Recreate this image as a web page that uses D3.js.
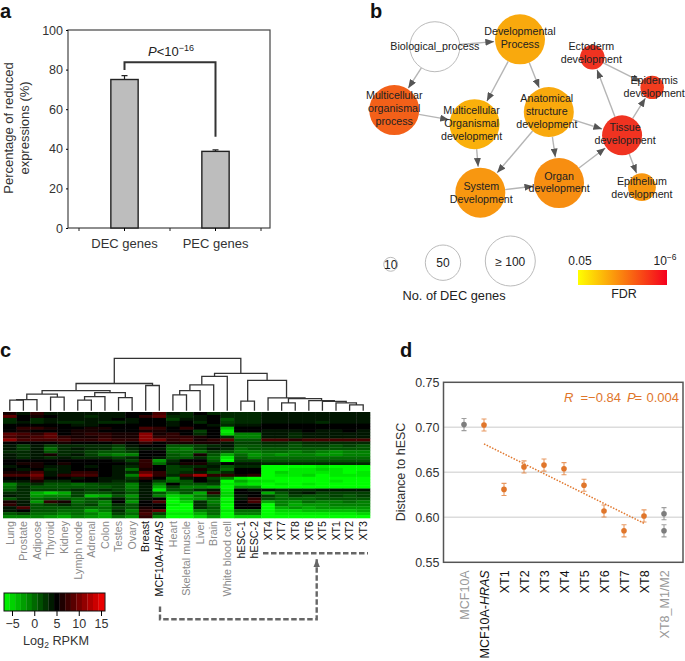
<!DOCTYPE html>
<html>
<head>
<meta charset="utf-8">
<script src="https://cdn.jsdelivr.net/npm/d3@7"></script>
<style>
body { margin: 0; background: #fff; }
svg { display: block; font-family: "Liberation Sans", Arial, sans-serif; }
text { fill: #222; }
</style>
</head>
<body>
<svg width="685" height="661"></svg>
<script>
// panel a
const barCats = ['DEC genes', 'PEC genes']
const barValues = [75, 38.7]
const barErrors = [2, 0.8]
const barTicks = [0, 20, 40, 60, 80, 100]
const bracketLevels = [79.8, 83.7, 46.1]

// panel b
const nodeNames = ['Biological_process', 'Developmental Process', 'Multicellular organismal process',
  'Multicellular Organismal development', 'Anatomical structure development', 'Tissue development',
  'Ectoderm development', 'Epidermis development', 'Epithelium development', 'Organ development', 'System Development']
const nodeLines = [['Biological_process'], ['Developmental', 'Process'], ['Multicellular', 'organismal', 'process'],
  ['Multicellular', 'Organismal', 'development'], ['Anatomical', 'structure', 'development'], ['Tissue', 'development'],
  ['Ectoderm', 'development'], ['Epidermis', 'development'], ['Epithelium', 'development'], ['Organ', 'development'], ['System', 'Development']]
const nodeGenes = [100, 100, 100, 100, 100, 64, 24, 22, 31, 100, 100]
const nodeFdr = [null, 2.9, 4.5, 2.75, 2.9, 5.5, 5.5, 5.3, 3.3, 3.5, 3.3] // -log10
const edges = [[0, 1], [0, 2], [1, 3], [1, 4], [2, 3], [3, 10], [4, 10], [4, 9], [4, 5], [10, 9], [9, 5], [5, 6], [5, 7], [5, 8], [6, 7]]
const sizeLegend = [10, 50, 100]

// node layout, in percent of the panel
const nodeX = [23.4, 50, 10.7, 35.8, 59, 81.9, 72.6, 91.3, 88.1, 62.2, 37.6]
const nodeY = [14.6, 12.3, 34.4, 38.8, 35, 42.3, 17.9, 27.3, 58.5, 57.2, 60.2]
const labelDx = [0, 0, 0, -3, -2, 3, -1, 2, 0, 0, 1]
const labelDy = [-1, -2, -2, -1, -1, -2, -5, -1, 0, -1, 0]

// panel c
const tissues = ['Lung', 'Prostate', 'Adipose', 'Thyroid', 'Kidney', 'Lymph node', 'Adrenal', 'Colon', 'Testes', 'Ovary',
  'Breast', 'MCF10A-HRAS', 'Heart', 'Skeletal muscle', 'Liver', 'Brain', 'White blood cell', 'hESC-1', 'hESC-2',
  'XT4', 'XT7', 'XT8', 'XT6', 'XT5', 'XT1', 'XT2', 'XT3']
const greyTissues = ['Lung', 'Prostate', 'Adipose', 'Thyroid', 'Kidney', 'Lymph node', 'Adrenal', 'Colon', 'Testes', 'Ovary',
  'Heart', 'Skeletal muscle', 'Liver', 'Brain', 'White blood cell']
const heatRows = [
  [6,4,7,4,4,4,4,4,4,5,5,8,4,3,5,3,3,3,3,4,4,4,4,4,4,4,4],
  [9,5,6,5,4,4,3,4,4,5,7,9,3,3,4,5,3,3,3,4,4,4,4,4,4,4,4],
  [3,5,3,4,4,4,4,4,5,4,5,5,2,4,4,5,1,3,3,4,4,4,4,4,4,4,4],
  [3,4,3,4,3,3,4,3,3,4,5,5,4,5,3,5,2,3,3,4,4,4,4,3,4,4,4],
  [5,5,5,5,5,4,4,5,5,5,5,5,4,5,5,4,3,4,4,5,5,5,5,5,5,5,5],
  [5,7,7,6,5,5,6,6,5,5,8,7,5,7,5,5,-4,5,5,5,5,5,5,5,5,5,5],
  [5,6,5,5,5,6,6,5,5,5,6,6,5,5,2,5,-6,5,5,4,4,4,5,4,4,5,4],
  [9,8,7,9,5,6,7,7,6,6,11,6,7,5,3,5,-5,-1,-1,4,4,3,4,4,4,4,4],
  [8,7,8,9,7,6,6,7,6,6,11,7,7,7,6,5,3,-1,-1,4,4,3,4,4,4,4,4],
  [11,8,8,8,8,7,7,8,7,7,11,10,7,8,6,7,9,1,1,8,8,7,8,8,8,8,8],
  [5,5,5,5,6,5,5,5,6,5,7,5,6,6,6,6,4,2,2,3,3,2,3,3,3,3,3],
  [4,2,4,2,3,3,3,3,2,4,5,5,1,1,2,3,4,1,1,2,2,1,2,2,1,2,1],
  [4,2,4,0,3,4,3,3,1,3,4,4,0,-1,2,4,3,0,1,1,1,1,1,1,1,1,1],
  [3,3,4,1,3,3,2,1,1,2,5,5,0,0,0,2,1,-1,-1,0,0,-1,0,-1,-2,-1,-1],
  [4,3,4,6,3,4,2,0,-1,-1,5,5,1,0,6,1,-3,0,-2,-1,-2,-1,-1,-2,-2,-1,-1],
  [4,3,4,3,4,3,3,3,2,3,5,4,1,1,3,0,-6,1,-1,0,0,0,0,0,0,0,0],
  [5,5,5,5,5,5,5,5,4,2,7,-2,3,5,5,1,-7,2,2,1,1,1,1,1,1,1,1],
  [5,6,6,5,6,5,5,5,5,4,7,0,4,6,6,3,5,4,4,3,3,3,3,3,3,3,3],
  [4,5,6,4,4,5,4,5,4,3,7,5,2,3,3,4,1,3,3,-7,-7,-7,-7,-6,-7,-7,-7],
  [5,4,5,3,4,5,5,5,4,0,6,5,2,2,6,3,0,5,5,-7,-7,-6,-6,-5,-6,-7,-7],
  [6,6,8,4,4,7,7,5,4,3,9,7,2,3,4,1,3,5,5,-7,-5,-6,-6,-6,-6,-7,-6],
  [8,8,10,4,7,8,8,5,4,-1,12,7,3,8,12,7,7,6,7,-7,-6,-6,-5,-7,-6,-6,-6],
  [5,5,8,5,5,4,5,4,4,2,7,5,-1,4,5,2,-1,-6,-7,-7,-7,-7,-7,-7,-7,-7,-7],
  [4,4,6,3,3,5,5,4,3,3,5,2,0,1,5,3,-7,-3,-5,-6,-7,-7,-7,-7,-6,-7,-7],
  [-1,2,3,1,1,0,1,2,2,-1,4,-1,5,1,1,2,-6,-5,-6,-7,-6,-7,-6,-7,-7,-7,-7],
  [0,3,1,1,1,1,1,1,2,-1,4,-3,2,-1,-1,-2,-7,-2,-2,-7,-7,-7,-7,-7,-7,-7,-7],
  [1,3,2,2,2,3,2,3,2,0,4,-6,1,1,3,4,-6,5,4,4,3,3,3,4,4,4,4],
  [3,3,-3,-5,-3,2,1,1,3,1,4,1,-2,1,-3,7,-5,5,5,-3,1,3,4,2,2,2,2],
  [4,3,-2,-1,-1,2,-4,-3,1,-2,4,-1,-5,-4,-1,2,-5,4,5,2,0,2,1,1,2,1,2],
  [1,3,0,1,1,0,1,2,4,0,4,5,-6,-3,-2,0,-7,4,7,1,0,0,0,1,1,1,1],
  [6,4,-2,7,6,0,1,-1,5,-2,5,8,-7,-5,3,-1,-6,5,8,-3,-1,-2,0,-1,-1,0,-1],
  [7,4,1,2,3,1,2,-1,3,1,5,5,-6,-7,3,0,-7,5,5,-7,-1,-3,-2,-2,-1,-1,-1],
  [4,8,1,1,1,1,0,0,2,1,6,5,-7,-7,3,1,-7,5,5,-7,-3,-2,-3,-2,-2,-2,-2],
  [4,5,1,1,0,0,-3,-1,3,-1,7,9,-7,-7,-1,0,-6,0,0,-7,-5,-5,-4,-4,-4,-4,-3],
  [1,2,0,0,-1,0,-1,-3,2,0,8,2,-6,-6,-3,0,-7,-1,-1,-7,-6,-6,-6,-6,-6,-6,-5],
  [-1,-1,-1,-2,-3,-1,-2,-3,0,-2,7,-1,-7,-7,-5,-2,-7,-5,-5,-7,-7,-7,-7,-7,-7,-7,-7]
]
// dendrogram as [height, left, right], numbers are leaf indexes
const dendro = [52,
  [27,
    [20,
      [16.5, [11, [10.5, 0, 1], 2], [13.5, 3, 4]],
      [18, [14, [10.5, 5, 6], 7], [13, 8, 9]]],
    [25, 10, 11]],
  [37,
    [34, [25.7, [20, [15.7, 12, 13], 14], 15], 16],
    [30, [9.5, 17, 18],
      [12.7, 19, [12, [7.7, 20, 21], [10, 22, [9.3, 23, [7.7, 24, [5.7, 25, 26]]]]]]]]]
const heatLegendTicks = [-5, 0, 5, 10, 15]
const heatLegendSteps = d3.range(-6.8, 15.9, 1.25)

// panel d
const pointLabels = ['MCF10A', 'MCF10A-HRAS', 'XT1', 'XT2', 'XT3', 'XT4', 'XT5', 'XT6', 'XT7', 'XT8', 'XT8_M1/M2']
const pointValues = [0.703, 0.7026, 0.631, 0.656, 0.658, 0.654, 0.6356, 0.607, 0.585, 0.6015, 0.604]
const extraLabels = ['XT8_M1/M2']
const extraValues = [0.585]
const pointError = 0.0067
const distTicks = [0.55, 0.6, 0.65, 0.7, 0.75]
const gridTicks = [0.6, 0.65, 0.7]
const trendLabels = ['MCF10A-HRAS', 'XT8']
const trendValues = [0.6815, 0.5933]

const svg = d3.select('svg')
const dark = '#333'
const defs = svg.append('defs')

function letter(t, x, y) {
  svg.append('text').attr('x', x).attr('y', y).attr('font-size', 20).attr('font-weight', 'bold').style('fill', '#111').text(t)
}
letter('a', 0, 18)
letter('b', 370, 18)
letter('c', 0, 357)
letter('d', 400, 357)

// ---- a ----
const aBox = {left: 68, right: 270, top: 30, bottom: 228}
const ax = d3.scaleBand().domain(barCats).range([79, 261]).paddingInner(0.7).paddingOuter(0.35)
const ay = d3.scaleLinear().domain([0, 100]).range([aBox.bottom, aBox.top])
const panelA = svg.append('g')

panelA.append('rect').attr('x', aBox.left).attr('y', aBox.top)
  .attr('width', aBox.right - aBox.left).attr('height', aBox.bottom - aBox.top)
  .attr('fill', 'none').attr('stroke', '#444').attr('stroke-width', 1.2)

panelA.selectAll('.bar').data(barCats).enter().append('rect')
  .attr('x', d => ax(d))
  .attr('y', (d, i) => ay(barValues[i]))
  .attr('width', ax.bandwidth())
  .attr('height', (d, i) => ay(0) - ay(barValues[i]))
  .attr('fill', '#bdbdbd').attr('stroke', '#222').attr('stroke-width', 1.4)

panelA.selectAll('.err').data(barCats).enter().append('path')
  .attr('d', (d, i) => {
    const c = ax(d) + ax.bandwidth() / 2
    const y0 = ay(barValues[i]), y1 = ay(barValues[i] + barErrors[i])
    return `M${c},${y0}V${y1}M${c - 3},${y1}H${c + 3}`
  })
  .attr('fill', 'none').attr('stroke', '#222').attr('stroke-width', 1.2)

const aLeft = panelA.append('g').attr('transform', `translate(${aBox.left},0)`)
  .call(d3.axisLeft(ay).tickValues(barTicks).tickSize(2).tickPadding(3))
aLeft.select('.domain').remove()
aLeft.selectAll('text').attr('font-size', 12.5).style('fill', dark)

const aBottom = panelA.append('g').attr('transform', `translate(0,${aBox.bottom})`)
  .call(d3.axisBottom(ax).tickSize(3).tickPadding(8))
aBottom.select('.domain').remove()
aBottom.selectAll('text').attr('font-size', 13).style('fill', dark)
// ticks between the categories
panelA.selectAll('.sep').data([0, 1, 2]).enter().append('line')
  .attr('x1', d => 79 + d * ax.step()).attr('x2', d => 79 + d * ax.step())
  .attr('y1', aBox.bottom).attr('y2', aBox.bottom + 3)
  .attr('stroke', '#222')

const xa = ax(barCats[0]) + ax.bandwidth() / 2
const xb = ax(barCats[1]) + ax.bandwidth() / 2
panelA.append('path')
  .attr('d', `M${xa},${ay(bracketLevels[0])}V${ay(bracketLevels[1])}H${xb}V${ay(bracketLevels[2])}`)
  .attr('fill', 'none').attr('stroke', dark).attr('stroke-width', 2)

const pText = panelA.append('text').attr('x', 171).attr('y', 56).attr('text-anchor', 'middle').attr('font-size', 13)
pText.append('tspan').attr('font-style', 'italic').text('P')
pText.append('tspan').text('<10')
pText.append('tspan').attr('dy', -5).attr('font-size', 9).text('\u221216')

panelA.append('text').attr('transform', 'translate(13,128) rotate(-90)').attr('text-anchor', 'middle')
  .attr('font-size', 13).style('fill', dark).text('Percentage of reduced')
panelA.append('text').attr('transform', 'translate(29,128) rotate(-90)').attr('text-anchor', 'middle')
  .attr('font-size', 13).style('fill', dark).text('expressions (%)')

// ---- b ----
const panelB = svg.append('g')
const nx = d3.scaleLinear().domain([0, 100]).range([360, 680])
const ny = d3.scaleLinear().domain([0, 100]).range([0, 320])
const rScale = d3.scaleSqrt().domain([0, 100]).range([0, 25]).clamp(true)
const fdrColor = d3.scaleLinear().domain([1.3, 6]).range(['#fff200', '#ee1c25'])

defs.append('marker').attr('id', 'head')
  .attr('viewBox', '0 0 10 8').attr('refX', 10).attr('refY', 4)
  .attr('markerWidth', 9).attr('markerHeight', 7).attr('markerUnits', 'userSpaceOnUse')
  .attr('orient', 'auto')
  .append('path').attr('d', 'M0,0L10,4L0,8Z').attr('fill', '#555')

panelB.selectAll('.edge').data(edges).enter().append('line')
  .each(function (e) {
    const x0 = nx(nodeX[e[0]]), y0 = ny(nodeY[e[0]]), x1 = nx(nodeX[e[1]]), y1 = ny(nodeY[e[1]])
    const len = Math.hypot(x1 - x0, y1 - y0)
    const r0 = rScale(nodeGenes[e[0]]), r1 = rScale(nodeGenes[e[1]]) + 1
    d3.select(this)
      .attr('x1', x0 + (x1 - x0) * r0 / len).attr('y1', y0 + (y1 - y0) * r0 / len)
      .attr('x2', x1 - (x1 - x0) * r1 / len).attr('y2', y1 - (y1 - y0) * r1 / len)
  })
  .attr('stroke', '#b5b5b5').attr('stroke-width', 1.4).attr('marker-end', 'url(#head)')

panelB.selectAll('.node').data(nodeNames).enter().append('circle')
  .attr('cx', (d, i) => nx(nodeX[i]))
  .attr('cy', (d, i) => ny(nodeY[i]))
  .attr('r', (d, i) => rScale(nodeGenes[i]))
  .attr('fill', (d, i) => nodeFdr[i] === null ? '#fff' : fdrColor(nodeFdr[i]))
  .attr('stroke', (d, i) => nodeFdr[i] === null ? '#bbb' : 'none')

nodeLines.forEach((lines, i) => {
  const t = panelB.append('text').attr('text-anchor', 'middle').attr('font-size', 10.7)
  lines.forEach((line, k) => {
    t.append('tspan')
      .attr('x', nx(nodeX[i]) + labelDx[i])
      .attr('y', ny(nodeY[i]) + labelDy[i] + 4 + (k - (lines.length - 1) / 2) * 12.8)
      .text(line)
  })
})

const sizeX = [390.7, 443, 510.3]
const sizeY = [264.3, 262.7, 261]
panelB.selectAll('.size').data(sizeLegend).enter().append('circle')
  .attr('cx', (d, i) => sizeX[i]).attr('cy', (d, i) => sizeY[i])
  .attr('r', d => rScale(d) * (d === 10 ? 0.88 : 1))
  .attr('fill', '#fff').attr('stroke', '#bbb')
panelB.selectAll('.sizeLabel').data(sizeLegend).enter().append('text')
  .attr('x', (d, i) => sizeX[i]).attr('y', (d, i) => sizeY[i] + 4.5)
  .attr('text-anchor', 'middle').attr('font-size', 12)
  .text(d => d === 100 ? '\u2265 100' : d)
panelB.append('text').attr('x', 454).attr('y', 300).attr('text-anchor', 'middle').attr('font-size', 12.8).text('No. of DEC genes')

const grad = defs.append('linearGradient').attr('id', 'fdr')
grad.append('stop').attr('offset', '0%').attr('stop-color', '#ffff00')
grad.append('stop').attr('offset', '100%').attr('stop-color', '#f5001e')
panelB.append('rect').attr('x', 578).attr('y', 270).attr('width', 89).attr('height', 15).attr('fill', 'url(#fdr)')
panelB.append('text').attr('x', 580).attr('y', 265).attr('text-anchor', 'middle').attr('font-size', 12).text('0.05')
const tenSix = panelB.append('text').attr('x', 665).attr('y', 265).attr('text-anchor', 'middle').attr('font-size', 12)
tenSix.append('tspan').text('10')
tenSix.append('tspan').attr('dy', -5).attr('font-size', 8.5).text('\u22126')
panelB.append('text').attr('x', 624).attr('y', 298).attr('text-anchor', 'middle').attr('font-size', 12.5).text('FDR')

// ---- c ----
const panelC = svg.append('g')
const cx = d3.scaleBand().domain(tissues).range([3, 370])
const cy = d3.scaleBand().domain(d3.range(heatRows.length)).range([412, 518])
const heatColor = d3.scaleLinear().domain([-7, 5, 16]).range(['#00ff00', '#000000', '#ff0000']).clamp(true)

// the reference heatmap is soft, rows run into each other
defs.append('filter').attr('id', 'soft').attr('x', '-1%').attr('y', '-1%').attr('width', '102%').attr('height', '102%')
  .append('feGaussianBlur').attr('stdDeviation', 0.55)
const heatG = panelC.append('g').attr('filter', 'url(#soft)')

heatRows.forEach((row, r) => {
  heatG.selectAll('.r' + r).data(row).enter().append('rect')
    .attr('x', (d, i) => cx(tissues[i]))
    .attr('y', cy(r))
    .attr('width', cx.bandwidth() + 0.3)
    .attr('height', cy.bandwidth() + 0.3)
    .attr('fill', d => heatColor(d))
})

const dy = d3.scaleLinear().domain([0, 52.3]).range([410.7, 358])
function drawTree(n) {
  if (typeof n === 'number') return {x: cx(tissues[n]) + cx.bandwidth() / 2, y: dy(0)}
  const l = drawTree(n[1]), r = drawTree(n[2])
  const y = dy(n[0])
  panelC.append('path')
    .attr('d', `M${l.x},${l.y}V${y}H${r.x}V${r.y}`)
    .attr('fill', 'none').attr('stroke', '#333').attr('stroke-width', 1.3)
  return {x: (l.x + r.x) / 2, y: y}
}
drawTree(dendro)

const cAxis = panelC.append('g').attr('transform', 'translate(0,518)')
  .call(d3.axisBottom(cx).tickSize(0).tickPadding(0))
cAxis.select('.domain').remove()
cAxis.selectAll('text')
  .attr('transform', 'rotate(-90)')
  .attr('x', -3).attr('y', 0).attr('dy', '0.35em')
  .attr('text-anchor', 'end').attr('font-size', 10.7)
  .style('fill', d => greyTissues.includes(d) ? '#8a8a8a' : '#111')
  .each(function (d) {
    if (d !== 'MCF10A-HRAS') return
    const t = d3.select(this).text('MCF10A-')
    t.append('tspan').attr('font-style', 'italic').text('HRAS')
  })

// dashed arrow from MCF10A-HRAS to the XT group
defs.append('marker').attr('id', 'dashHead')
  .attr('viewBox', '0 0 10 8').attr('refX', 10).attr('refY', 4)
  .attr('markerWidth', 8).attr('markerHeight', 7).attr('markerUnits', 'userSpaceOnUse')
  .attr('orient', 'auto')
  .append('path').attr('d', 'M0,0L10,4L0,8Z').attr('fill', '#666')
panelC.append('path').attr('d', 'M160,606.5V619.3H316.7V559')
  .attr('fill', 'none').attr('stroke', '#666').attr('stroke-width', 2.4).attr('stroke-dasharray', '5.5,2.5')
  .attr('marker-end', 'url(#dashHead)')
panelC.append('line').attr('x1', 263).attr('x2', 368).attr('y1', 553.3).attr('y2', 553.3)
  .attr('stroke', '#666').attr('stroke-width', 2.4).attr('stroke-dasharray', '5.5,2.5')

// colour key
const keyX = d3.scaleLinear().domain([-5, 15]).range([12, 101])
panelC.selectAll('.key').data(heatLegendSteps).enter().append('rect')
  .attr('x', d => keyX(d)).attr('y', 593)
  .attr('width', d => Math.min(keyX(d + 1.3), 105) - keyX(d)).attr('height', 18)
  .attr('fill', d => heatColor(d + 0.6))
panelC.append('rect').attr('x', 4).attr('y', 593).attr('width', 101).attr('height', 18)
  .attr('fill', 'none').attr('stroke', '#111')
const keyAxis = panelC.append('g').attr('transform', 'translate(0,611)')
  .call(d3.axisBottom(keyX).tickValues(heatLegendTicks).tickSize(5).tickPadding(3).tickFormat(d => d < 0 ? '\u2212' + (-d) : d))
keyAxis.select('.domain').remove()
keyAxis.selectAll('text').attr('font-size', 12.5).style('fill', dark)
const keyTitle = panelC.append('text').attr('x', 56).attr('y', 645).attr('text-anchor', 'middle').attr('font-size', 12.7).style('fill', dark)
keyTitle.append('tspan').text('Log')
keyTitle.append('tspan').attr('dy', 3).attr('font-size', 8.5).text('2')
keyTitle.append('tspan').attr('dy', -3).text(' RPKM')

// ---- d ----
const panelD = svg.append('g')
const orange = '#e0762b'
const grey = '#7d7d7d'
const dBox = {left: 443.5, right: 683, top: 382.3, bottom: 562.3}
const px = d3.scalePoint().domain(pointLabels).range([464, 664])
const py = d3.scaleLinear().domain([0.55, 0.75]).range([dBox.bottom, dBox.top])

panelD.selectAll('.grid').data(gridTicks).enter().append('line')
  .attr('x1', dBox.left).attr('x2', dBox.right)
  .attr('y1', d => py(d)).attr('y2', d => py(d))
  .attr('stroke', '#dcdcdc').attr('stroke-width', 1.4)
panelD.append('rect').attr('x', dBox.left).attr('y', dBox.top)
  .attr('width', dBox.right - dBox.left).attr('height', dBox.bottom - dBox.top)
  .attr('fill', 'none').attr('stroke', '#555').attr('stroke-width', 1.5)

const dLeft = panelD.append('g').attr('transform', `translate(${dBox.left},0)`)
  .call(d3.axisLeft(py).tickValues(distTicks).tickSize(0).tickPadding(4).tickFormat(d3.format('.2f')))
dLeft.select('.domain').remove()
dLeft.selectAll('text').attr('font-size', 12.5).style('fill', dark)

const dBottom = panelD.append('g').attr('transform', `translate(0,${dBox.bottom})`)
  .call(d3.axisBottom(px).tickSize(0).tickPadding(0))
dBottom.select('.domain').remove()
dBottom.selectAll('text')
  .attr('transform', 'rotate(-90)')
  .attr('x', -8).attr('y', 0).attr('dy', '0.35em')
  .attr('text-anchor', 'end').attr('font-size', 12.5)
  .style('fill', d => (d === 'MCF10A' || d === 'XT8_M1/M2') ? '#999' : '#111')
  .each(function (d) {
    if (d !== 'MCF10A-HRAS') return
    const t = d3.select(this).text('MCF10A-')
    t.append('tspan').attr('font-style', 'italic').text('HRAS')
  })

panelD.append('line')
  .attr('x1', px(trendLabels[0])).attr('y1', py(trendValues[0]))
  .attr('x2', px(trendLabels[1])).attr('y2', py(trendValues[1]))
  .attr('stroke', orange).attr('stroke-width', 1.5).attr('stroke-dasharray', '1.5,1.5')

const allPoints = pointLabels.map((d, i) => [d, pointValues[i]]).concat(extraLabels.map((d, i) => [d, extraValues[i]]))
const pointColor = d => (d[0] === 'MCF10A' || d[0] === 'XT8_M1/M2') ? grey : orange
panelD.selectAll('.perr').data(allPoints).enter().append('path')
  .attr('d', d => {
    const c = px(d[0]), y0 = py(d[1] - pointError), y1 = py(d[1] + pointError)
    return `M${c - 2.5},${y0}H${c + 2.5}M${c},${y0}V${y1}M${c - 2.5},${y1}H${c + 2.5}`
  })
  .attr('fill', 'none').attr('stroke', pointColor).attr('stroke-opacity', 0.75).attr('stroke-width', 1.1)
panelD.selectAll('.pt').data(allPoints).enter().append('circle')
  .attr('cx', d => px(d[0])).attr('cy', d => py(d[1])).attr('r', 2.8)
  .attr('fill', pointColor)

const statParts = [['R', 564, 'italic'], ['=\u22120.84', 580.5, 'normal'], ['P', 627, 'italic'], ['=', 634.5, 'normal'], ['0.004', 646.5, 'normal']]
panelD.selectAll('.stat').data(statParts).enter().append('text')
  .attr('x', d => d[1]).attr('y', 402).attr('font-size', 13)
  .attr('font-style', d => d[2])
  .style('fill', orange)
  .text(d => d[0])

panelD.append('text').attr('transform', 'translate(405,472) rotate(-90)').attr('text-anchor', 'middle')
  .attr('font-size', 12.5).style('fill', dark).text('Distance to hESC')
</script>
</body>
</html>
